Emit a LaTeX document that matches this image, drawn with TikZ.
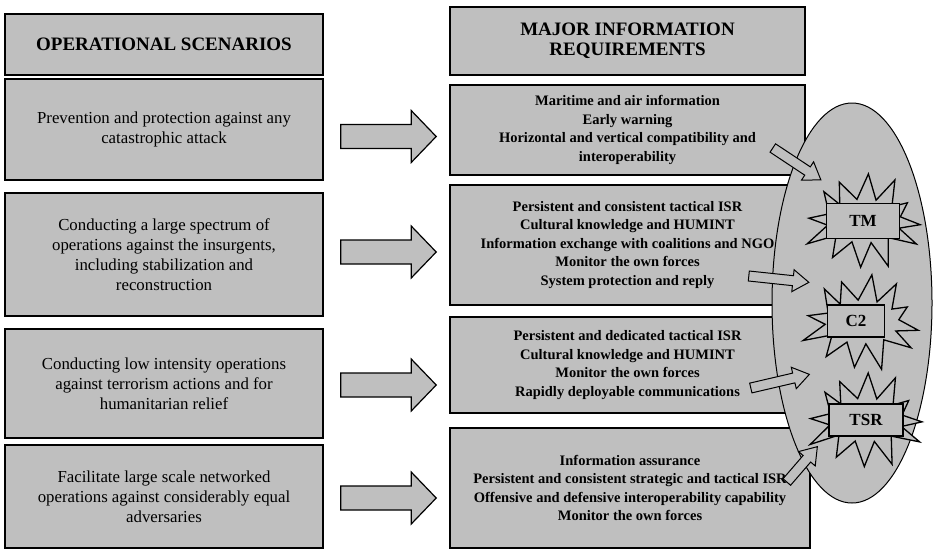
\documentclass[tikz,border=0pt]{standalone}
\usepackage{fontspec}
\setmainfont{Liberation Serif}
\usetikzlibrary{calc,shapes.geometric}
\newcommand{\blockarrow}[6][]{%
  \path ($(#3)!#6!(#2)$) coordinate (bah);
  \draw[#1] ($(#2)!#4!90:(#3)$) -- ($(bah)!#4!-90:(#2)$) -- ($(bah)!#5!-90:(#2)$) -- (#3)
    -- ($(bah)!#5!90:(#2)$) -- ($(bah)!#4!90:(#2)$) -- ($(#2)!#4!-90:(#3)$) -- cycle;}
\newcommand{\burststar}[3]{%
  \draw[burst] plot[samples at={0,15,...,345}, variable=\a]
    ({#1+(mod(\a,30)==0 ? 62*(0.9+0.12*sin(3*\a+#3)) : 37)*cos(\a+#3)},
     {#2+(mod(\a,30)==0 ? 52*(0.9+0.12*cos(5*\a+#3)) : 22)*sin(\a+#3)}) -- cycle;}
\begin{document}
\begin{tikzpicture}[x=1pt,y=-1pt,
  box/.style={draw=black, line width=1.6pt, fill=black!25, inner sep=0pt, align=center},
  lbox/.style={box, minimum width=318pt, font=\fontsize{16.8}{20}\selectfont},
  rbox/.style={box, minimum width=355pt, font=\bfseries\fontsize{14.5}{18.5}\selectfont},
  headtxt/.style={font=\bfseries\fontsize{19}{20}\selectfont},
  barrow/.style={draw=black, line width=1.2pt, fill=black!25},
  sarrow/.style={draw=black, line width=1pt, fill=black!25},
  burst/.style={draw=black, line width=1.3pt, fill=black!25, line join=miter},
  oval/.style={draw=black, line width=1pt, fill=black!25, ellipse, inner sep=0pt},
  tag/.style={draw=black, line width=1.3pt, fill=black!25, inner sep=0pt, font=\bfseries\fontsize{17}{20}\selectfont}
]
\fill[white] (0,0) rectangle (933,555);
\useasboundingbox (0,0) rectangle (933,555);
% left column
\node[lbox, headtxt, minimum height=61pt] (lh) at (164,44.5) {OPERATIONAL SCENARIOS};
\node[lbox, minimum height=101pt] (l1) at (164,129.5) {Prevention and protection against any\\catastrophic attack};
\node[lbox, minimum height=123pt] (l2) at (164,254.5) {Conducting a large spectrum of\\operations against the insurgents,\\including stabilization and\\reconstruction};
\node[lbox, minimum height=109pt] (l3) at (164,383.5) {Conducting low intensity operations\\against terrorism actions and for\\humanitarian relief};
\node[lbox, minimum height=103pt] (l4) at (164,496.5) {Facilitate large scale networked\\operations against considerably equal\\adversaries};
% right column
\node[rbox, headtxt, minimum height=68pt] (rh) at (627.5,41) {MAJOR INFORMATION\\REQUIREMENTS};
\node[rbox, minimum height=90pt] (r1) at (627.5,130) {Maritime and air information\\Early warning\\Horizontal and vertical compatibility and\\interoperability};
\node[rbox, minimum height=120pt] (r2) at (627.5,245) {Persistent and consistent tactical ISR\\Cultural knowledge and HUMINT\\Information exchange with coalitions and NGO\\Monitor the own forces\\System protection and reply};
\node[rbox, minimum height=96pt] (r3) at (627.5,365) {Persistent and dedicated tactical ISR\\Cultural knowledge and HUMINT\\Monitor the own forces\\Rapidly deployable communications};
\node[rbox, minimum width=360pt, minimum height=120pt] (r4) at (630,488) {Information assurance\\Persistent and consistent strategic and tactical ISR\\Offensive and defensive interoperability capability\\Monitor the own forces};
% big arrows
\coordinate (a1s) at ($(l1.east)+(17,7)$);
\coordinate (a1e) at ($(a1s -| r1.west)+(-13,0)$);
\coordinate (a2s) at ($(l2.east)+(17,-2.5)$);
\coordinate (a2e) at ($(a2s -| r2.west)+(-13,0)$);
\coordinate (a3s) at ($(l3.east)+(17,1.5)$);
\coordinate (a3e) at ($(a3s -| r3.west)+(-13,0)$);
\coordinate (a4s) at ($(l4.east)+(17,1.5)$);
\coordinate (a4e) at ($(a4s -| r4.west)+(-13,0)$);
\blockarrow[barrow]{a1s}{a1e}{12pt}{26pt}{25pt}
\blockarrow[barrow]{a2s}{a2e}{12pt}{26pt}{25pt}
\blockarrow[barrow]{a3s}{a3e}{12pt}{26pt}{25pt}
\blockarrow[barrow]{a4s}{a4e}{12pt}{26pt}{25pt}
% ellipse
\node[oval, minimum width=160pt, minimum height=400pt] (ov) at (852,303) {};
% starbursts
\burststar{864}{221}{4}
\burststar{862}{322}{9}
\burststar{866}{420}{2}
\node[tag, minimum width=73pt, minimum height=35pt] (tm) at (863,221) {TM};
\node[tag, minimum width=57pt, minimum height=32pt] (c2) at (856,321) {C2};
\node[tag, minimum width=74pt, minimum height=32pt] (tsr) at (866,420) {TSR};
% small arrows
\coordinate (t1s) at ($(r1.east)+(-33,18)$);
\coordinate (t1e) at ($(tm.north west)+(-5,-23)$);
\coordinate (t2s) at ($(r2.east)+(-57,31)$);
\coordinate (t2e) at ($(c2.north west)+(-18,-22)$);
\coordinate (t3s) at ($(r3.east)+(-55,23)$);
\coordinate (t3e) at ($(tsr.north west)+(-19,-29)$);
\coordinate (t4s) at ($(r4.east)+(-24,-6)$);
\coordinate (t4e) at ($(tsr.south west)+(-11,10)$);
\blockarrow[sarrow]{t1s}{t1e}{5pt}{11pt}{16pt}
\blockarrow[sarrow]{t2s}{t2e}{5pt}{11pt}{16pt}
\blockarrow[sarrow]{t3s}{t3e}{5pt}{11pt}{16pt}
\blockarrow[sarrow]{t4s}{t4e}{5pt}{11pt}{16pt}
\end{tikzpicture}
\end{document}
